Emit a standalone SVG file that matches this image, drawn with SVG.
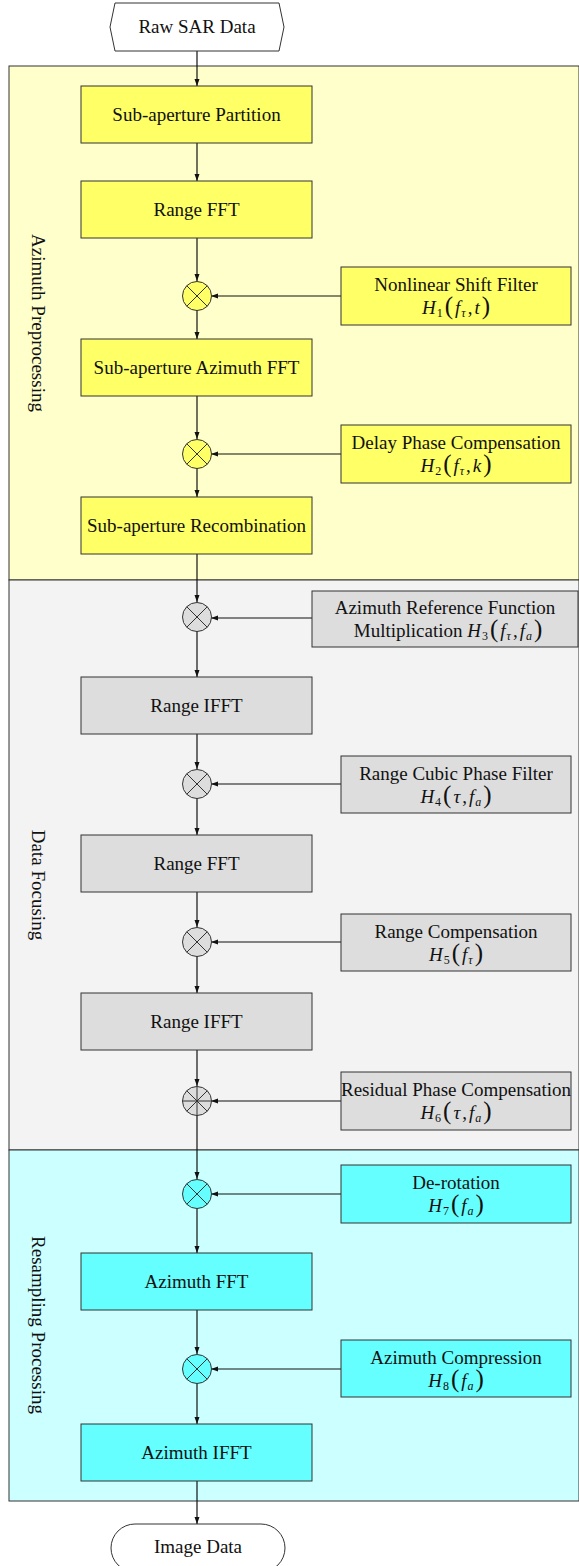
<svg xmlns="http://www.w3.org/2000/svg" width="579" height="1566" viewBox="0 0 579 1566">
<style>
text{font-family:"Liberation Serif","Times New Roman",serif;font-size:19px;fill:#111;text-anchor:middle}
.sec{stroke:#333;stroke-width:1}
.y{fill:#ffff66;stroke:#333;stroke-width:1}
.g{fill:#dddddd;stroke:#333;stroke-width:1}
.c{fill:#66ffff;stroke:#333;stroke-width:1}
.term{fill:#fff;stroke:#333;stroke-width:1}
.x{stroke:#333;stroke-width:1}
.con{stroke:#111;stroke-width:1.2;fill:none;marker-end:url(#ah)}
.it{font-style:italic}
.sub{font-size:12px}
.par{font-size:25px}
</style>
<defs>
<marker id="ah" markerUnits="userSpaceOnUse" markerWidth="8" markerHeight="6" refX="7" refY="3" orient="auto">
<path d="M0,0.5 L7,3 L0,5.5 z" fill="#111"/>
</marker>
</defs>

<g id="sections">
<rect id="sec-azimuth" class="sec" x="9" y="66" width="570" height="514" fill="#ffffcc"/>
<rect id="sec-focusing" class="sec" x="9" y="580" width="570" height="570" fill="#f3f3f3"/>
<rect id="sec-resampling" class="sec" x="9" y="1150" width="570" height="351" fill="#ccffff"/>
<text transform="translate(38,323) rotate(90)" dy="6">Azimuth Preprocessing</text>
<text transform="translate(38,885) rotate(90)" dy="6">Data Focusing</text>
<text transform="translate(38,1325) rotate(90)" dy="6">Resampling Processing</text>
</g>

<g id="connectors">
<line class="con" x1="197" y1="51" x2="197" y2="86"/>
<line class="con" x1="197" y1="143" x2="197" y2="181"/>
<line class="con" x1="197" y1="238" x2="197" y2="281"/>
<line class="con" x1="197" y1="310" x2="197" y2="339"/>
<line class="con" x1="197" y1="396" x2="197" y2="439"/>
<line class="con" x1="197" y1="468" x2="197" y2="497"/>
<line class="con" x1="197" y1="554" x2="197" y2="602"/>
<line class="con" x1="197" y1="631" x2="197" y2="677"/>
<line class="con" x1="197" y1="734" x2="197" y2="769"/>
<line class="con" x1="197" y1="798" x2="197" y2="835"/>
<line class="con" x1="197" y1="892" x2="197" y2="927"/>
<line class="con" x1="197" y1="956" x2="197" y2="993"/>
<line class="con" x1="197" y1="1050" x2="197" y2="1086"/>
<line class="con" x1="197" y1="1115" x2="197" y2="1179"/>
<line class="con" x1="197" y1="1208" x2="197" y2="1253"/>
<line class="con" x1="197" y1="1310" x2="197" y2="1354"/>
<line class="con" x1="197" y1="1383" x2="197" y2="1424"/>
<line class="con" x1="197" y1="1481" x2="197" y2="1524"/>
<line class="con" x1="341" y1="296" x2="211" y2="296"/>
<line class="con" x1="341" y1="454" x2="211" y2="454"/>
<line class="con" x1="312" y1="618" x2="211" y2="618"/>
<line class="con" x1="341" y1="784" x2="211" y2="784"/>
<line class="con" x1="341" y1="942" x2="211" y2="942"/>
<line class="con" x1="341" y1="1101" x2="211" y2="1101"/>
<line class="con" x1="341" y1="1194" x2="211" y2="1194"/>
<line class="con" x1="341" y1="1369" x2="211" y2="1369"/>
</g>

<g id="raw-sar-data">
<polygon class="term" points="115,3 279,3 284,27 279,51 115,51 110,27"/>
<text x="197" y="33">Raw SAR Data</text>
</g>

<g id="sub-aperture-partition">
<rect class="y" x="81" y="86" width="231" height="57"/>
<text x="196.5" y="121">Sub-aperture Partition</text>
</g>
<g id="range-fft-1">
<rect class="y" x="81" y="181" width="231" height="57"/>
<text x="196.5" y="216">Range FFT</text>
</g>
<g id="mult-1">
<circle class="y" cx="197" cy="296" r="14.5"/>
<path class="x" d="M186.7,285.7 L207.3,306.3 M207.3,285.7 L186.7,306.3"/>
</g>
<g id="nonlinear-shift-filter">
<rect class="y" x="341" y="267" width="230" height="58"/>
<text x="456" y="291">Nonlinear Shift Filter</text>
<text x="456" y="314"><tspan class="it">H</tspan><tspan class="sub" dy="3" dx="1">1</tspan><tspan class="par" dy="-3" dx="2">(</tspan><tspan class="it" dx="2">f</tspan><tspan class="sub it" dy="3" dx="1">τ</tspan><tspan dy="-3" dx="2">,</tspan><tspan class="it" dx="2">t</tspan><tspan class="par" dx="2">)</tspan></text>
</g>
<g id="sub-aperture-azimuth-fft">
<rect class="y" x="81" y="339" width="231" height="57"/>
<text x="196.5" y="374">Sub-aperture Azimuth FFT</text>
</g>
<g id="mult-2">
<circle class="y" cx="197" cy="454" r="14.5"/>
<path class="x" d="M186.7,443.7 L207.3,464.3 M207.3,443.7 L186.7,464.3"/>
</g>
<g id="delay-phase-compensation">
<rect class="y" x="341" y="425" width="230" height="58"/>
<text x="456" y="449">Delay Phase Compensation</text>
<text x="456" y="472"><tspan class="it">H</tspan><tspan class="sub" dy="3" dx="1">2</tspan><tspan class="par" dy="-3" dx="2">(</tspan><tspan class="it" dx="2">f</tspan><tspan class="sub it" dy="3" dx="1">τ</tspan><tspan dy="-3" dx="2">,</tspan><tspan class="it" dx="2">k</tspan><tspan class="par" dx="2">)</tspan></text>
</g>
<g id="sub-aperture-recombination">
<rect class="y" x="81" y="497" width="231" height="57"/>
<text x="196.5" y="532">Sub-aperture Recombination</text>
</g>

<g id="mult-3">
<circle class="g" cx="197" cy="617" r="14.5"/>
<path class="x" d="M186.7,606.7 L207.3,627.3 M207.3,606.7 L186.7,627.3"/>
</g>
<g id="azimuth-reference-function">
<rect class="g" x="312" y="591" width="266" height="56"/>
<text x="445" y="614">Azimuth Reference Function</text>
<text x="448" y="637">Multiplication  <tspan class="it">H</tspan><tspan class="sub" dy="3" dx="1">3</tspan><tspan class="par" dy="-3" dx="2">(</tspan><tspan class="it" dx="2">f</tspan><tspan class="sub it" dy="3" dx="1">τ</tspan><tspan dy="-3" dx="2">,</tspan><tspan class="it" dx="2">f</tspan><tspan class="sub it" dy="3" dx="1">a</tspan><tspan class="par" dy="-3" dx="2">)</tspan></text>
</g>
<g id="range-ifft-1">
<rect class="g" x="81" y="677" width="231" height="57"/>
<text x="196.5" y="712">Range IFFT</text>
</g>
<g id="mult-4">
<circle class="g" cx="197" cy="784" r="14.5"/>
<path class="x" d="M186.7,773.7 L207.3,794.3 M207.3,773.7 L186.7,794.3"/>
</g>
<g id="range-cubic-phase-filter">
<rect class="g" x="341" y="756" width="230" height="57"/>
<text x="456" y="780">Range Cubic Phase Filter</text>
<text x="456" y="803"><tspan class="it">H</tspan><tspan class="sub" dy="3" dx="1">4</tspan><tspan class="par" dy="-3" dx="2">(</tspan><tspan class="it" dx="2">τ</tspan><tspan dx="2">,</tspan><tspan class="it" dx="2">f</tspan><tspan class="sub it" dy="3" dx="1">a</tspan><tspan class="par" dy="-3" dx="2">)</tspan></text>
</g>
<g id="range-fft-2">
<rect class="g" x="81" y="835" width="231" height="57"/>
<text x="196.5" y="870">Range FFT</text>
</g>
<g id="mult-5">
<circle class="g" cx="197" cy="942" r="14.5"/>
<path class="x" d="M186.7,931.7 L207.3,952.3 M207.3,931.7 L186.7,952.3"/>
</g>
<g id="range-compensation">
<rect class="g" x="341" y="914" width="230" height="57"/>
<text x="456" y="938">Range Compensation</text>
<text x="456" y="961"><tspan class="it">H</tspan><tspan class="sub" dy="3" dx="1">5</tspan><tspan class="par" dy="-3" dx="2">(</tspan><tspan class="it" dx="2">f</tspan><tspan class="sub it" dy="3" dx="1">τ</tspan><tspan class="par" dy="-3" dx="2">)</tspan></text>
</g>
<g id="range-ifft-2">
<rect class="g" x="81" y="993" width="231" height="57"/>
<text x="196.5" y="1028">Range IFFT</text>
</g>
<g id="mult-6">
<circle class="g" cx="197" cy="1101" r="14.5"/>
<path class="x" d="M186.7,1090.7 L207.3,1111.3 M207.3,1090.7 L186.7,1111.3 M182.5,1101 L211.5,1101 M197,1086.5 L197,1115.5"/>
</g>
<g id="residual-phase-compensation">
<rect class="g" x="341" y="1072" width="230" height="58"/>
<text x="456" y="1096">Residual Phase Compensation</text>
<text x="456" y="1119"><tspan class="it">H</tspan><tspan class="sub" dy="3" dx="1">6</tspan><tspan class="par" dy="-3" dx="2">(</tspan><tspan class="it" dx="2">τ</tspan><tspan dx="2">,</tspan><tspan class="it" dx="2">f</tspan><tspan class="sub it" dy="3" dx="1">a</tspan><tspan class="par" dy="-3" dx="2">)</tspan></text>
</g>

<g id="mult-7">
<circle class="c" cx="197" cy="1194" r="14.5"/>
<path class="x" d="M186.7,1183.7 L207.3,1204.3 M207.3,1183.7 L186.7,1204.3"/>
</g>
<g id="de-rotation">
<rect class="c" x="341" y="1165" width="230" height="58"/>
<text x="456" y="1189">De-rotation</text>
<text x="456" y="1212"><tspan class="it">H</tspan><tspan class="sub" dy="3" dx="1">7</tspan><tspan class="par" dy="-3" dx="2">(</tspan><tspan class="it" dx="2">f</tspan><tspan class="sub it" dy="3" dx="1">a</tspan><tspan class="par" dy="-3" dx="2">)</tspan></text>
</g>
<g id="azimuth-fft">
<rect class="c" x="81" y="1253" width="231" height="57"/>
<text x="196.5" y="1288">Azimuth FFT</text>
</g>
<g id="mult-8">
<circle class="c" cx="197" cy="1369" r="14.5"/>
<path class="x" d="M186.7,1358.7 L207.3,1379.3 M207.3,1358.7 L186.7,1379.3"/>
</g>
<g id="azimuth-compression">
<rect class="c" x="341" y="1340" width="230" height="57"/>
<text x="456" y="1364">Azimuth Compression</text>
<text x="456" y="1387"><tspan class="it">H</tspan><tspan class="sub" dy="3" dx="1">8</tspan><tspan class="par" dy="-3" dx="2">(</tspan><tspan class="it" dx="2">f</tspan><tspan class="sub it" dy="3" dx="1">a</tspan><tspan class="par" dy="-3" dx="2">)</tspan></text>
</g>
<g id="azimuth-ifft">
<rect class="c" x="81" y="1424" width="231" height="57"/>
<text x="196.5" y="1459">Azimuth IFFT</text>
</g>

<g id="image-data">
<rect class="term" x="111" y="1524" width="174" height="48" rx="24" ry="24"/>
<text x="198" y="1553">Image Data</text>
</g>
</svg>
